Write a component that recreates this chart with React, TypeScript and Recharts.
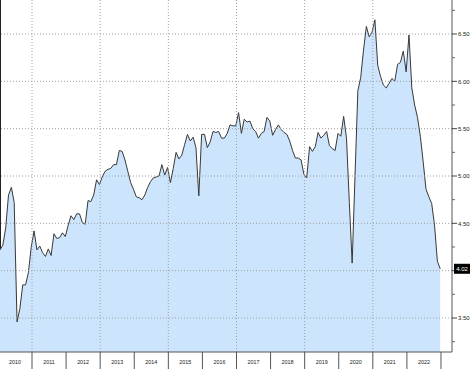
import React from 'react';
import { AreaChart, Area, XAxis, YAxis, ReferenceLine } from 'recharts';

const years = ['2010', '2011', '2012', '2013', '2014', '2015', '2016', '2017', '2018', '2019', '2020', '2021', '2022'];

// monthly values, Jan 2010 .. Dec 2022
const rates = [
  4.22, 4.27, 4.45, 4.80, 4.88, 4.72, 3.46, 3.60, 3.85, 3.85, 3.98, 4.25,
  4.42, 4.22, 4.26, 4.19, 4.15, 4.23, 4.16, 4.39, 4.34, 4.35, 4.40, 4.36,
  4.48, 4.58, 4.54, 4.60, 4.60, 4.51, 4.49, 4.74, 4.73, 4.80, 4.96, 4.91,
  4.99, 5.05, 5.07, 5.08, 5.12, 5.12, 5.27, 5.26, 5.17, 5.05, 4.93, 4.86,
  4.78, 4.77, 4.75, 4.80, 4.88, 4.94, 4.98, 4.99, 5.00, 5.12, 5.01, 5.09,
  4.93, 5.08, 5.25, 5.18, 5.22, 5.33, 5.44, 5.37, 5.41, 5.30, 4.79, 5.44,
  5.44, 5.30, 5.36, 5.47, 5.46, 5.47, 5.40, 5.40, 5.45, 5.54, 5.53, 5.53,
  5.67, 5.45, 5.60, 5.57, 5.58, 5.50, 5.47, 5.40, 5.45, 5.47, 5.62, 5.58,
  5.43, 5.49, 5.54, 5.49, 5.46, 5.44, 5.37, 5.27, 5.19, 5.19, 5.17, 5.02,
  4.98, 5.31, 5.26, 5.31, 5.46, 5.40, 5.43, 5.47, 5.32, 5.29, 5.27, 5.45,
  5.42, 5.63, 5.40, 4.72, 4.08, 5.00, 5.90, 6.04, 6.33, 6.58, 6.47, 6.52,
  6.65, 6.17, 6.05, 5.96, 5.93, 5.98, 6.03, 6.00, 6.18, 6.20, 6.32, 6.10,
  6.49, 5.93, 5.75, 5.62, 5.42, 5.15, 4.86, 4.78, 4.71, 4.48, 4.10, 4.02,
];

const majorTicks = [3.5, 4.0, 4.5, 5.0, 5.5, 6.0, 6.5];
const minorTicks = [3.25, 3.75, 4.25, 4.75, 5.25, 5.75, 6.25, 6.75];
const lastValue = rates[rates.length - 1];

const W = 472;
const H = 369;
const SHIFT = 0.73; // points sit a bit into each month band
const X_MAX = 159.15;

const data = rates.map((v, i) => ({ m: i, rate: v }));
const yearEnds = years.map((_, k) => 12 * (k + 1) - SHIFT);
const yearMids = years.map((_, k) => 12 * k + 6 - SHIFT);
const gridYears = yearEnds.filter((_, k) => k % 2 === 0 && k < 12);

const font = '"Liberation Sans", Arial, sans-serif';

function XTick(props: any) {
  const { x, y, payload } = props;
  const k = yearMids.findIndex((m) => Math.abs(m - payload.value) < 1e-6);
  if (k >= 0) {
    return (
      <text x={x} y={y + 11.5} textAnchor="middle" fontSize={5.4} fontFamily={font} fill="#222">
        {years[k]}
      </text>
    );
  }
  return <line x1={x} x2={x} y1={y} y2={y + 17} stroke="#555" strokeWidth={1} />;
}

function YTick(props: any) {
  const { x, y, payload } = props;
  const v = payload.value;
  if (v === lastValue) {
    return (
      <g>
        <rect x={x + 2} y={y - 5} width={16} height={10} fill="#000" />
        <text x={x + 10} y={y + 2.2} textAnchor="middle" fontSize={6} fontFamily={font} fill="#fff">
          {v.toFixed(2)}
        </text>
      </g>
    );
  }
  if (majorTicks.includes(v)) {
    // the label box of the last value covers the nearby major label
    const hidden = Math.abs(v - lastValue) < 0.1;
    return (
      <g>
        <line x1={x} x2={x + 5} y1={y} y2={y} stroke="#444" strokeWidth={1} />
        {!hidden && (
          <text x={x + 6} y={y + 2.2} fontSize={6} fontFamily={font} fill="#222">
            {v.toFixed(2)}
          </text>
        )}
      </g>
    );
  }
  return <line x1={x} x2={x + 3} y1={y} y2={y} stroke="#666" strokeWidth={1} />;
}

export default function App() {
  return (
    <div style={{ width: W, height: H, background: '#fff', position: 'relative' }}>
      <style>{'body{margin:0}'}</style>
      {/* left plot frame, shows only above the filled area */}
      <div style={{ position: 'absolute', left: 0, top: 0, width: 1, height: 352, background: '#222' }} />
      <div style={{ position: 'relative' }}>
        <AreaChart width={W} height={H} data={data} margin={{ top: 0, right: 0, bottom: 0, left: 0 }}>
          <XAxis
            dataKey="m"
            type="number"
            domain={[0, X_MAX]}
            ticks={[...yearMids, ...yearEnds]}
            interval={0}
            tick={<XTick />}
            tickLine={false}
            tickSize={0}
            tickMargin={0}
            height={17}
            axisLine={{ stroke: '#555' }}
          />
          <YAxis
            orientation="right"
            type="number"
            domain={[3.141, 6.859]}
            ticks={[...minorTicks, ...majorTicks, lastValue]}
            interval={0}
            tick={<YTick />}
            tickLine={false}
            tickSize={0}
            tickMargin={0}
            width={20}
            axisLine={{ stroke: '#555' }}
          />
          <Area
            type="linear"
            dataKey="rate"
            stroke="#383838"
            strokeWidth={1}
            fill="#cce4fc"
            fillOpacity={1}
            dot={false}
            activeDot={false}
            isAnimationActive={false}
          />
          {majorTicks.map((t) => (
            <ReferenceLine key={'h' + t} y={t} stroke="#a0a0a0" strokeDasharray="1 2" />
          ))}
          {gridYears.map((m) => (
            <ReferenceLine key={'v' + m} x={m} stroke="#a0a0a0" strokeDasharray="1 2" />
          ))}
        </AreaChart>
      </div>
    </div>
  );
}
